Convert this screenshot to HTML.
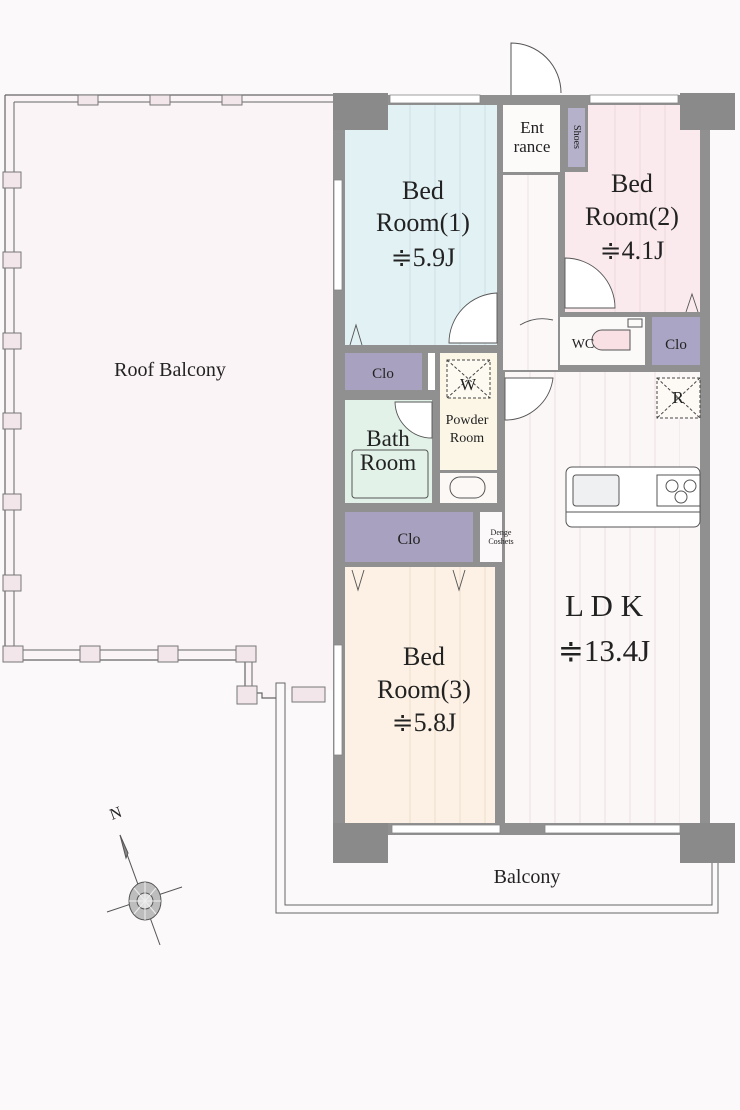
<!DOCTYPE html><html><head><meta charset="utf-8"><style>body{margin:0;background:#fbf9f9}svg{display:block}text{font-family:"Liberation Serif",serif;fill:#222}</style></head><body>
<svg width="740" height="1110" viewBox="0 0 740 1110" xmlns="http://www.w3.org/2000/svg">
<rect width="740" height="1110" fill="#fbf9f9"/>
<path d="M5,95 H333 V690 H285 V698 H262 V690 H245 V658 H5 Z" fill="#fbf4f6"/>
<path d="M5,95 H333 M5,95 V660 H245 V693 H262 V698 H280" fill="none" stroke="#666" stroke-width="1.2"/>
<path d="M14,102 H333 M14,102 V650 H252 V688" fill="none" stroke="#666" stroke-width="1"/>
<g fill="#f3e6ea" stroke="#777" stroke-width="1">
<rect x="78" y="95" width="20" height="10"/><rect x="150" y="95" width="20" height="10"/><rect x="222" y="95" width="20" height="10"/>
<rect x="3" y="172" width="18" height="16"/><rect x="3" y="252" width="18" height="16"/><rect x="3" y="333" width="18" height="16"/><rect x="3" y="413" width="18" height="16"/><rect x="3" y="494" width="18" height="16"/><rect x="3" y="575" width="18" height="16"/>
<rect x="3" y="646" width="20" height="16"/><rect x="80" y="646" width="20" height="16"/><rect x="158" y="646" width="20" height="16"/><rect x="236" y="646" width="20" height="16"/>
<rect x="237" y="686" width="20" height="18"/><rect x="292" y="687" width="33" height="15"/>
</g>
<text x="170" y="376" font-size="20" text-anchor="middle">Roof Balcony</text>
<path d="M276,683 H285 V905 H712 V860 H718 V913 H276 Z" fill="#fbf9f9" stroke="#666" stroke-width="1"/>
<text x="527" y="883" font-size="20" text-anchor="middle">Balcony</text>
<rect x="333" y="95" width="377" height="740" fill="#909090"/>
<rect x="345" y="105" width="152" height="240" fill="#e2f1f4"/>
<rect x="503" y="105" width="57" height="67" fill="#fdfafa"/>
<rect x="503" y="175" width="55" height="195" fill="#fcf8f8"/>
<rect x="565" y="105" width="135" height="207" fill="#faeaed"/>
<rect x="560" y="105" width="28" height="67" fill="#909090"/>
<rect x="568" y="108" width="17" height="59" fill="#b6b1ca"/>
<rect x="560" y="317" width="85" height="48" fill="#fcf9f9"/>
<rect x="652" y="317" width="48" height="48" fill="#aba5c5"/>
<rect x="345" y="353" width="77" height="37" fill="#a8a1bf"/>
<rect x="428" y="353" width="7" height="37" fill="#fff"/>
<rect x="440" y="353" width="57" height="117" fill="#fbf6e6"/>
<rect x="345" y="400" width="87" height="103" fill="#e2f2e9"/>
<rect x="440" y="473" width="57" height="30" fill="#fbf8f6"/>
<rect x="345" y="512" width="128" height="50" fill="#a8a1bf"/>
<rect x="480" y="512" width="22" height="50" fill="#fbf9f9"/>
<rect x="345" y="567" width="150" height="256" fill="#fcf1e4"/>
<rect x="505" y="372" width="195" height="451" fill="#fcf7f7"/>
<g stroke="#c9dde2" stroke-width="0.8"><line x1="360" y1="105" x2="360" y2="345"/><line x1="385" y1="105" x2="385" y2="345"/><line x1="410" y1="105" x2="410" y2="345"/><line x1="435" y1="105" x2="435" y2="345"/><line x1="460" y1="105" x2="460" y2="345"/><line x1="485" y1="105" x2="485" y2="345"/></g>
<g stroke="#ecd4d8" stroke-width="0.8"><line x1="615" y1="105" x2="615" y2="312"/><line x1="640" y1="105" x2="640" y2="312"/><line x1="665" y1="105" x2="665" y2="312"/><line x1="690" y1="105" x2="690" y2="312"/></g>
<g stroke="#ecdcc8" stroke-width="0.8"><line x1="360" y1="567" x2="360" y2="823"/><line x1="385" y1="567" x2="385" y2="823"/><line x1="410" y1="567" x2="410" y2="823"/><line x1="435" y1="567" x2="435" y2="823"/><line x1="460" y1="567" x2="460" y2="823"/><line x1="485" y1="567" x2="485" y2="823"/></g>
<g stroke="#e6dcdc" stroke-width="0.8"><line x1="530" y1="372" x2="530" y2="823"/><line x1="555" y1="372" x2="555" y2="823"/><line x1="580" y1="372" x2="580" y2="823"/><line x1="605" y1="372" x2="605" y2="823"/><line x1="630" y1="372" x2="630" y2="823"/><line x1="655" y1="372" x2="655" y2="823"/><line x1="680" y1="372" x2="680" y2="823"/><line x1="528" y1="175" x2="528" y2="370"/></g>
<g fill="#8a8a8a"><rect x="333" y="93" width="55" height="37"/><rect x="680" y="93" width="55" height="37"/><rect x="333" y="823" width="55" height="40"/><rect x="680" y="823" width="55" height="40"/></g>
<rect x="345" y="130" width="43" height="215" fill="#e2f1f4"/>
<rect x="680" y="130" width="20" height="182" fill="#faeaed"/>
<rect x="345" y="567" width="43" height="256" fill="#fcf1e4"/>
<rect x="680" y="372" width="20" height="451" fill="#fcf7f7"/>
<g fill="#fff" stroke="#888" stroke-width="0.8"><rect x="390" y="95" width="90" height="8"/><rect x="590" y="95" width="88" height="8"/><rect x="392" y="825" width="108" height="8"/><rect x="545" y="825" width="135" height="8"/><rect x="334" y="180" width="8" height="110"/><rect x="334" y="645" width="8" height="110"/></g>
<path d="M511,95 V43 A50,50 0 0 1 561,93" fill="#fff" stroke="#555" stroke-width="1"/>
<g fill="#fff" stroke="#555" stroke-width="0.9">
<path d="M497,293 A50,50 0 0 0 449,343 H497 Z"/>
<path d="M565,258 A50,50 0 0 1 615,308 H565 Z"/>
<path d="M505,378 H553 A48,48 0 0 1 505,420 Z"/>
<path d="M395,402 H432 V438 A37,37 0 0 1 395,402 Z"/>
</g>
<g fill="none" stroke="#555" stroke-width="0.9"><path d="M553,320 A45,45 0 0 0 520,325"/><path d="M352,570 L358,590 L364,570"/><path d="M453,570 L459,590 L465,570"/><path d="M350,345 L356,325 L362,345"/><path d="M686,312 L692,294 L698,312"/></g>
<rect x="447" y="360" width="43" height="38" fill="#fdfaf2"/>
<rect x="657" y="378" width="43" height="40" fill="#fdfaf6"/>
<g fill="none" stroke="#444" stroke-width="1" stroke-dasharray="3,2"><rect x="447" y="360" width="43" height="38"/><path d="M447,360 L490,398 M490,360 L447,398"/><rect x="657" y="378" width="43" height="40"/><path d="M657,378 L700,418 M700,378 L657,418"/></g>
<g fill="none" stroke="#555" stroke-width="1">
<rect x="566" y="467" width="134" height="60" rx="6" fill="#fff"/><line x1="566" y1="512" x2="700" y2="512"/>
<rect x="573" y="475" width="46" height="31" rx="3" fill="#eef0f2"/><rect x="657" y="475" width="43" height="31"/>
<circle cx="672" cy="486" r="6"/><circle cx="690" cy="486" r="6"/><circle cx="681" cy="497" r="6"/>
<rect x="450" y="477" width="35" height="21" rx="10"/>
<rect x="352" y="450" width="76" height="48" rx="3"/>
<path d="M602,330 A10,10 0 0 0 602,350 H630 V330 Z" fill="#f8e0e4"/><rect x="628" y="319" width="14" height="8"/>
</g>
<g text-anchor="middle">
<text x="423" y="199" font-size="26">Bed</text><text x="423" y="231" font-size="26">Room(1)</text><text x="423" y="266" font-size="26">≑5.9J</text>
<text x="632" y="192" font-size="26">Bed</text><text x="632" y="225" font-size="26">Room(2)</text><text x="632" y="259" font-size="26">≑4.1J</text>
<text x="532" y="133" font-size="17">Ent</text><text x="532" y="152" font-size="17">rance</text>
<text x="424" y="665" font-size="26">Bed</text><text x="424" y="698" font-size="26">Room(3)</text><text x="424" y="731" font-size="26">≑5.8J</text>
<text x="604" y="616" font-size="31">L D K</text><text x="604" y="661" font-size="31">≑13.4J</text>
<text x="583" y="348" font-size="14">WC</text><text x="676" y="349" font-size="15">Clo</text>
<text x="383" y="378" font-size="15">Clo</text><text x="409" y="544" font-size="16">Clo</text>
<text x="468" y="390" font-size="17">W</text><text x="678" y="403" font-size="17">R</text>
<text x="467" y="424" font-size="14">Powder</text><text x="467" y="442" font-size="14">Room</text>
<text x="388" y="446" font-size="23">Bath</text><text x="388" y="470" font-size="23">Room</text>
<text x="501" y="535" font-size="8">Denge</text><text x="501" y="544" font-size="8">Coshets</text>
</g>
<text x="577" y="140" font-size="10" transform="rotate(90 577 137)" fill="#fff" text-anchor="middle">Shoes</text>
<g stroke="#555" fill="none" stroke-width="1"><line x1="120" y1="835" x2="160" y2="945"/><line x1="107" y1="912" x2="182" y2="887"/><ellipse cx="145" cy="901" rx="16" ry="19" fill="#bdbdbd"/><circle cx="145" cy="901" r="8" fill="#ddd"/><path d="M145,882 V920 M129,901 H161 M134,888 L156,914 M156,888 L134,914" stroke="#eee"/><path d="M120,835 L126,858 L128,853 Z" fill="#888"/></g>
<text x="112" y="820" font-size="16" transform="rotate(-20 112 820)">N</text>
</svg></body></html>
